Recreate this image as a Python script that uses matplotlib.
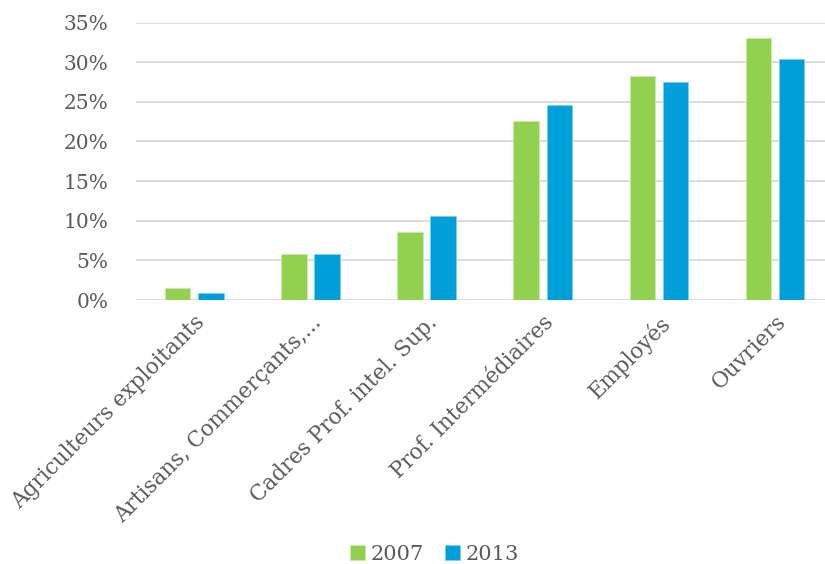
import numpy as np
import matplotlib.pyplot as plt
from matplotlib.ticker import FuncFormatter

categories = ["Agriculteurs exploitants", "Artisans, Commerçants,...",
              "Cadres Prof. intel. Sup.", "Prof. Intermédiaires",
              "Employés", "Ouvriers"]
v2007 = [1.55, 5.8, 8.55, 22.6, 28.3, 33.0]
v2013 = [0.9, 5.8, 10.6, 24.6, 27.5, 30.4]
years = ["2007", "2013"]

green = "#92D050"
blue = "#009FDA"
txt = "#595959"

plt.rcParams['font.family'] = ['DejaVu Serif']

fig = plt.figure(figsize=(8.25, 5.64), dpi=100)
ax = fig.add_axes([0.165, 0.468, 0.845, 0.492])

x = np.arange(len(categories))
w = 0.22
off = 0.1425
ax.bar(x - off, v2007, w, color=green, edgecolor="#c8eaa8", linewidth=0.6, label=years[0], zorder=3)
ax.bar(x + off, v2013, w, color=blue, edgecolor="#7fcdee", linewidth=0.6, label=years[1], zorder=3)

ax.set_xlim(-0.5, 5.5)
ax.set_ylim(0, 35)
ax.set_yticks(np.arange(0, 36, 5))
ax.yaxis.set_major_formatter(FuncFormatter(lambda v, p: f"{v:.0f}%"))
ax.grid(axis="y", color="#D9D9D9", linewidth=1.3, zorder=0)
for s in ax.spines.values():
    s.set_visible(False)
ax.tick_params(axis="y", length=0, colors=txt, labelsize=14.5, pad=20)

ax.set_xticks(x)
ax.set_xticklabels(categories, rotation=45, ha="right", rotation_mode="anchor", fontsize=15.5)
ax.tick_params(axis="x", length=0, colors=txt, pad=8)

fig.legend(loc="lower center", bbox_to_anchor=(0.527, -0.033), ncol=2, frameon=False,
           fontsize=15, handlelength=0.7, handleheight=0.7, handletextpad=0.3,
           columnspacing=1.0, labelcolor=txt)

fig.savefig("out.png", dpi=100)
